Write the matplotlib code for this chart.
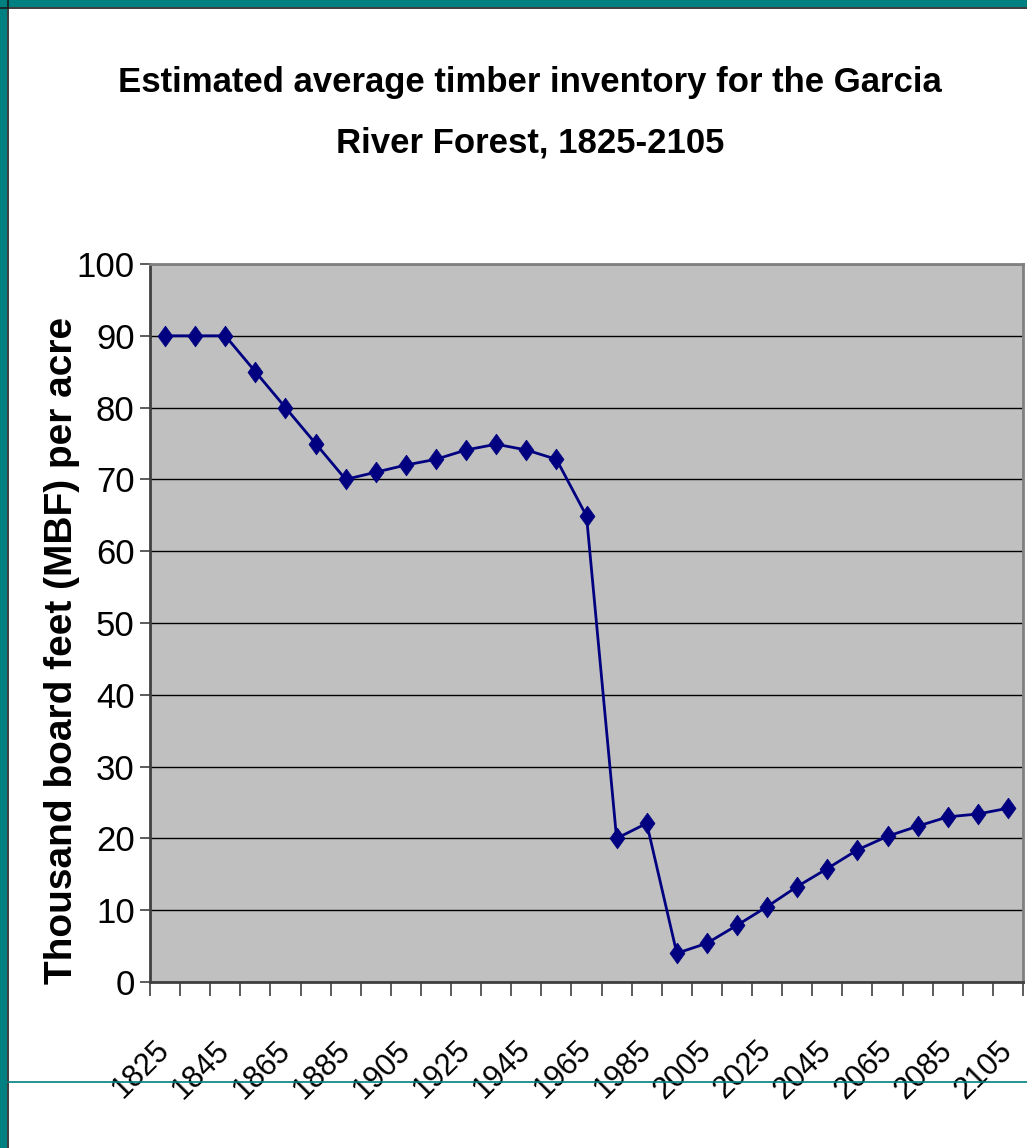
import matplotlib
matplotlib.use("Agg")
import matplotlib.pyplot as plt
from matplotlib.lines import Line2D
from matplotlib.patches import Rectangle
import numpy as np

# Inventory by decade (thousand board feet per acre)
years = [1825, 1835, 1845, 1855, 1865, 1875, 1885, 1895, 1905, 1915,
         1925, 1935, 1945, 1955, 1965, 1975, 1985, 1995, 2005, 2015,
         2025, 2035, 2045, 2055, 2065, 2075, 2085, 2095, 2105]
mbf_per_acre = [90, 90, 90, 85, 80, 75, 70, 71, 72, 72.8,
                74.1, 74.9, 74.1, 72.8, 64.9, 20.0, 22.1, 4.0, 5.4, 7.9,
                10.5, 13.3, 15.8, 18.4, 20.3, 21.7, 23.0, 23.4, 24.2]
y_ticks = [0, 10, 20, 30, 40, 50, 60, 70, 80, 90, 100]

title_lines = ["Estimated average timber inventory for the Garcia",
               "River Forest, 1825-2105"]
y_label = "Thousand board feet (MBF) per acre"

TEAL = "#008080"
NAVY = "#000080"
FONT = ["Liberation Sans", "DejaVu Sans"]

# Diamond marker, a little taller than wide
DIAMOND = [(0, 1), (0.72, 0), (0, -1), (-0.72, 0), (0, 1)]

W, H = 1027, 1148
fig = plt.figure(figsize=(W / 100, H / 100), dpi=100)
fig.patch.set_facecolor("white")

# Slide frame: teal band on the left and top, thin teal rule near the bottom
fig.add_artist(Rectangle((0, 0), 7 / W, 1, transform=fig.transFigure,
                         facecolor=TEAL, edgecolor="none", zorder=0))
fig.add_artist(Line2D([7.5 / W, 7.5 / W], [0, 1], transform=fig.transFigure,
                      color="#1a1a1a", lw=1.2, zorder=1))
fig.add_artist(Rectangle((0, 1 - 7 / H), 1, 7 / H, transform=fig.transFigure,
                         facecolor=TEAL, edgecolor="none", zorder=0))
fig.add_artist(Line2D([0, 1], [1 - 7.5 / H, 1 - 7.5 / H], transform=fig.transFigure,
                      color="#1a1a1a", lw=1.2, zorder=1))
fig.add_artist(Line2D([8 / W, 1], [1 - 1082 / H, 1 - 1082 / H], transform=fig.transFigure,
                      color=TEAL, lw=1.2, zorder=5))

left, right, top, bottom = 150, 1023, 264, 982
ax = fig.add_axes([left / W, 1 - bottom / H, (right - left) / W, (bottom - top) / H])
ax.set_facecolor("#C0C0C0")

n = len(years)
x = np.arange(n)
ax.plot(x, mbf_per_acre, color=NAVY, lw=2.0, marker=DIAMOND, markersize=15,
        markerfacecolor=NAVY, markeredgecolor=NAVY, markeredgewidth=0.5,
        zorder=3, clip_on=False)

ax.set_xlim(-0.5, n - 0.5)
ax.set_ylim(0, 100)

# Gridlines
ax.set_yticks(y_ticks)
ax.yaxis.grid(True, color="black", lw=1.0)
ax.set_axisbelow(True)
ax.set_yticklabels([str(v) for v in y_ticks], family=FONT, fontsize=25)
ax.tick_params(axis="y", length=7, width=1.2, color="#404040", pad=4, direction="out")

# Category boundaries carry tick marks; every other category centre carries a label
ax.set_xticks(np.arange(n + 1) - 0.5)
ax.set_xticklabels([])
ax.tick_params(axis="x", which="major", length=10, width=1.2, color="#404040", direction="out")
ax.set_xticks(x[::2], minor=True)
ax.set_xticklabels([str(y) for y in years[::2]], minor=True, rotation=45,
                   ha="right", va="center", rotation_mode="anchor",
                   family=FONT, fontsize=22)
ax.tick_params(axis="x", which="minor", length=0, pad=46)

for side in ["top", "right", "left", "bottom"]:
    ax.spines[side].set_color("#808080")
    ax.spines[side].set_linewidth(2.0)
ax.spines["bottom"].set_color("#404040")
ax.spines["left"].set_color("#404040")

fig.text(62 / W, 1 - 650 / H, y_label, rotation=90, ha="center", va="center",
         family=FONT, fontweight="bold", fontsize=28)

for line, base in zip(title_lines, [92, 153]):
    fig.text(530 / W, 1 - base / H, line, ha="center", va="baseline",
             family=FONT, fontweight="bold", fontsize=25)

fig.savefig("out.png", dpi=100, facecolor="white")
